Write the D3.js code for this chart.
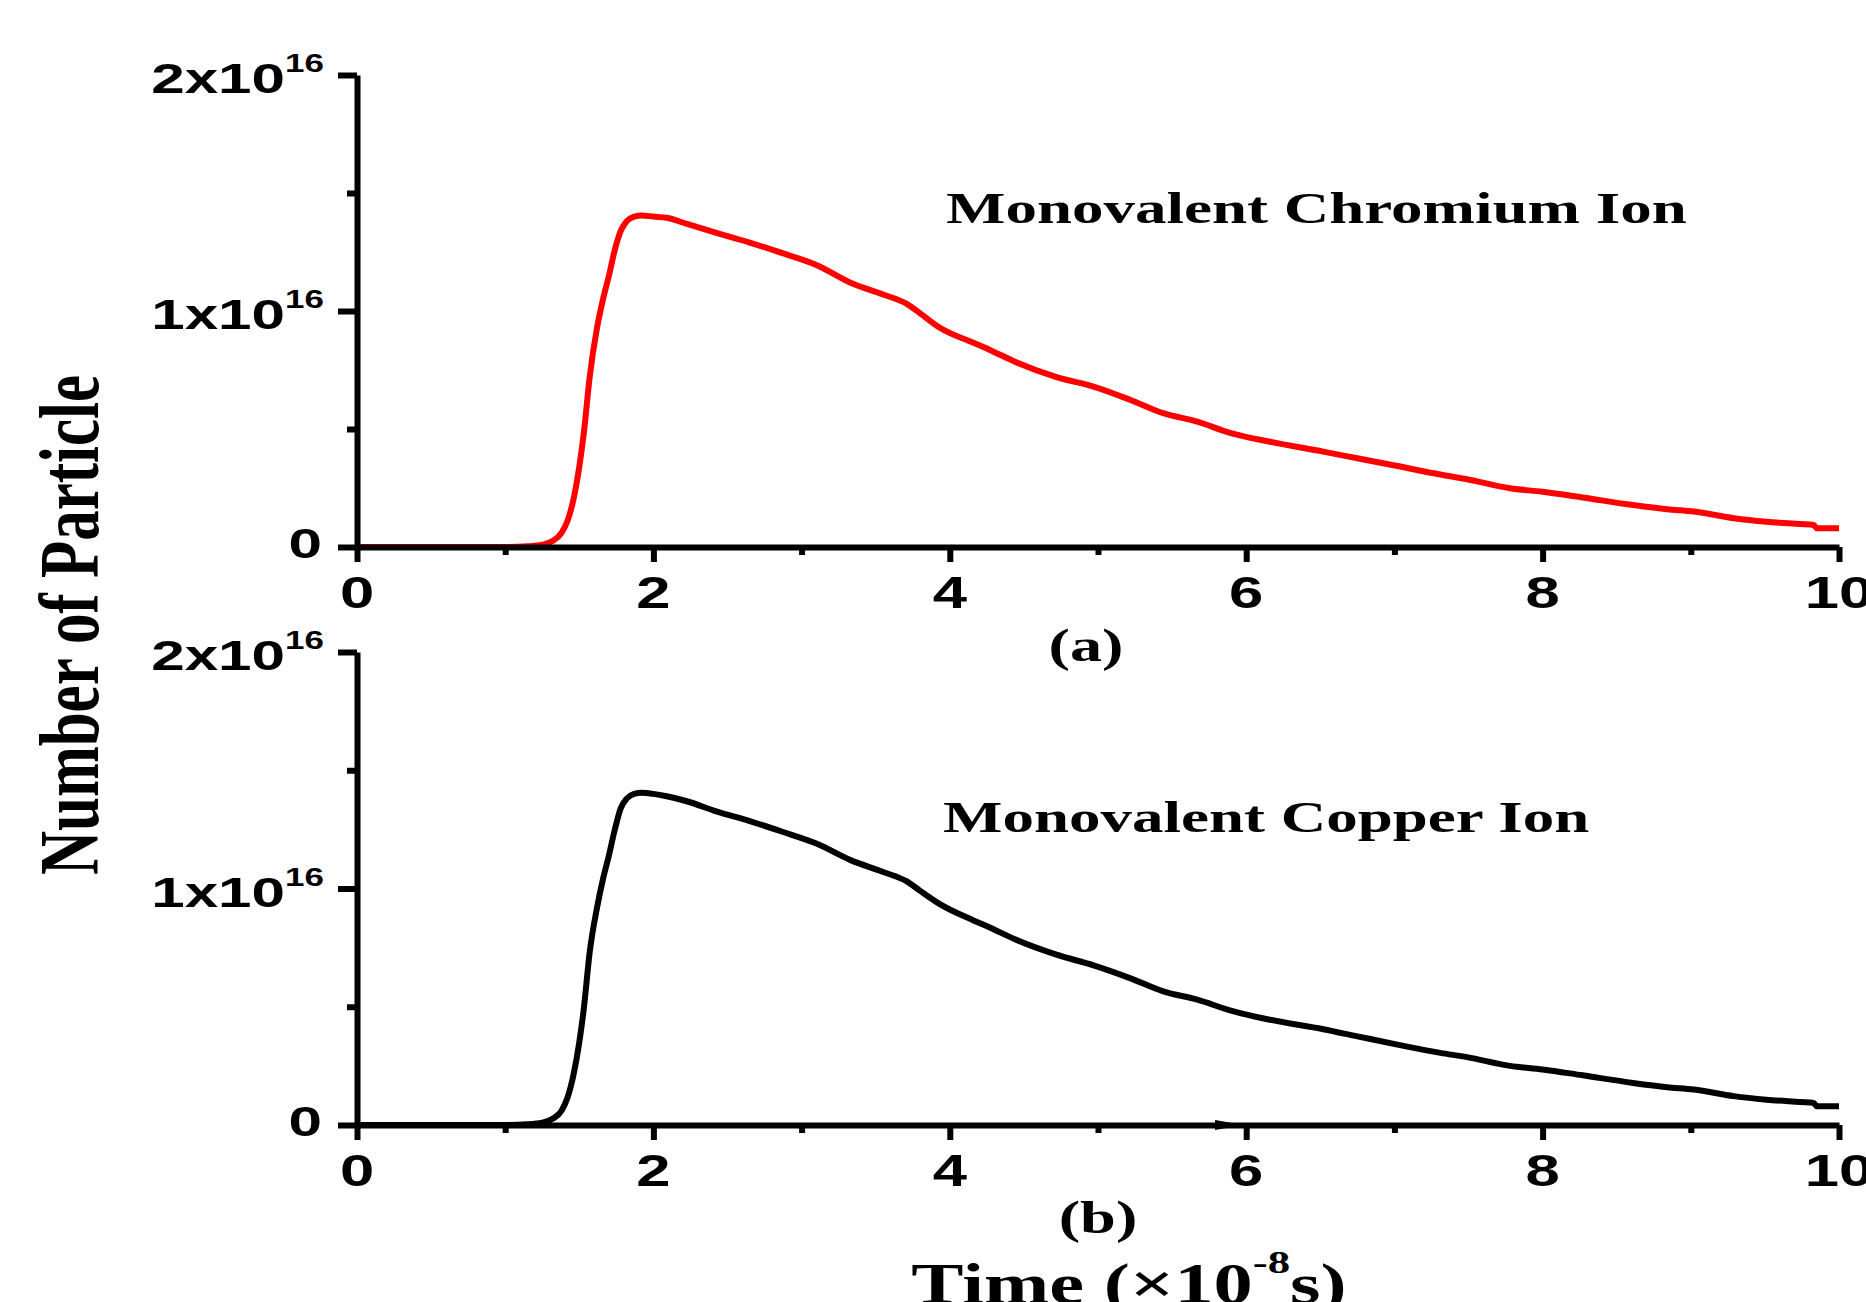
<!DOCTYPE html>
<html>
<head>
<meta charset="utf-8">
<script src="https://cdnjs.cloudflare.com/ajax/libs/d3/7.8.5/d3.min.js"></script>
<style>
    body { margin: 0; background: #fff; }
    svg { display: block; background: #fff; }
    .axis path, .axis line { stroke: #000; stroke-width: 6; fill: none; }
    .sans { font-family: "Liberation Sans", Arial, sans-serif; font-weight: bold; fill: #000; }
    .serif { font-family: "Liberation Serif", "Times New Roman", serif; font-weight: bold; fill: #000; }
</style>
</head>
<body>
<div id="chart"></div>
<script>
// time in units of 1e-8 s
var times = [0, 1.0, 1.15, 1.25, 1.32, 1.38, 1.42, 1.46, 1.50, 1.53, 1.57, 1.62, 1.66, 1.70, 1.74, 1.78,
    1.82, 1.87, 1.92, 2.0, 2.09, 2.22, 2.43, 2.65, 2.87, 3.10, 3.33, 3.55, 3.71, 3.80, 3.93, 4.16,
    4.27, 4.44, 4.72, 4.97, 5.22, 5.44, 5.67, 5.89, 6.16, 6.52, 6.75, 7.02, 7.31, 7.49, 7.78, 8.0,
    8.27, 8.61, 8.84, 9.02, 9.29, 9.51, 9.74, 9.83, 9.85, 10.0];

// number of particles in units of 1e16
var chromium = [0, 0, 0.003, 0.01, 0.025, 0.06, 0.11, 0.2, 0.34, 0.48, 0.72, 0.93, 1.05, 1.15, 1.26, 1.34,
    1.38, 1.40, 1.405, 1.40, 1.395, 1.37, 1.33, 1.29, 1.245, 1.195, 1.12, 1.07, 1.03, 0.99, 0.93, 0.865,
    0.835, 0.785, 0.72, 0.68, 0.623, 0.567, 0.531, 0.484, 0.446, 0.404, 0.376, 0.343, 0.307, 0.287, 0.249, 0.234,
    0.21, 0.178, 0.16, 0.15, 0.122, 0.107, 0.097, 0.093, 0.079, 0.079];

var copper = [0, 0, 0.003, 0.01, 0.026, 0.06, 0.115, 0.21, 0.35, 0.49, 0.73, 0.92, 1.04, 1.14, 1.25, 1.34,
    1.38, 1.40, 1.405, 1.40, 1.39, 1.37, 1.325, 1.285, 1.24, 1.19, 1.12, 1.07, 1.03, 0.99, 0.935, 0.865,
    0.835, 0.785, 0.72, 0.675, 0.62, 0.565, 0.53, 0.485, 0.445, 0.405, 0.375, 0.34, 0.305, 0.287, 0.25, 0.235,
    0.21, 0.178, 0.16, 0.15, 0.122, 0.107, 0.097, 0.093, 0.079, 0.079];

var xTicks = [0, 2, 4, 6, 8, 10];
var xMinor = [1, 3, 5, 7, 9];
var yTicks = [0, 1, 2];
var yMinor = [0.5, 1.5];
var yTickBase = ["0", "1x10", "2x10"];
var yTickExp = ["", "16", "16"];

// small arrow head sitting on the lower baseline
var arrowTimes = [5.79, 5.98];

var width = 1866, height = 1302;
var stretch = 1.4; // the figure text is stretched horizontally

var panels = [
    { values: chromium, color: "#ff0000", name: "Monovalent Chromium Ion", tag: "(a)",
      top: 75, bottom: 547, nameX: 946, nameY: 223, tagX: 1086, tagY: 661 },
    { values: copper, color: "#000000", name: "Monovalent Copper Ion", tag: "(b)",
      top: 652, bottom: 1125, nameX: 943, nameY: 832, tagX: 1098, tagY: 1233 }
];

var svg = d3.select('#chart').append('svg')
    .attr("width", width)
    .attr("height", height);

var x = d3.scaleLinear().domain([0, 10]).range([357, 1839]);

panels.forEach(function (p, k) {
    var y = d3.scaleLinear().domain([0, 2]).range([p.bottom, p.top]);
    var g = svg.append("g");

    // curve
    var line = d3.line()
        .x(function (d, i) { return x(times[i]); })
        .y(function (d) { return y(d); })
        .curve(d3.curveMonotoneX);

    g.append("path")
        .datum(p.values)
        .attr("d", line)
        .attr("fill", "none")
        .attr("stroke", p.color)
        .attr("stroke-width", 6)
        .attr("stroke-linejoin", "round");

    // x axis, major + minor ticks
    g.append("g").attr("class", "axis")
        .attr("transform", "translate(0," + p.bottom + ")")
        .call(d3.axisBottom(x).tickValues(xTicks).tickSize(15).tickSizeOuter(0).tickFormat(""));
    g.append("g").attr("class", "axis")
        .attr("transform", "translate(0," + p.bottom + ")")
        .call(d3.axisBottom(x).tickValues(xMinor).tickSize(8).tickFormat(""))
        .select(".domain").remove();

    // y axis, major + minor ticks
    g.append("g").attr("class", "axis")
        .attr("transform", "translate(" + x(0) + ",0)")
        .call(d3.axisLeft(y).tickValues(yTicks).tickSize(19).tickSizeOuter(0).tickFormat(""));
    g.append("g").attr("class", "axis")
        .attr("transform", "translate(" + x(0) + ",0)")
        .call(d3.axisLeft(y).tickValues(yMinor).tickSize(10).tickFormat(""))
        .select(".domain").remove();

    g.selectAll(".axis text").remove();

    // x tick labels
    g.selectAll(".xlab")
        .data(xTicks)
        .enter().append("text")
        .attr("class", "sans")
        .attr("font-size", 44)
        .attr("text-anchor", "middle")
        .attr("transform", function (d) {
            return "translate(" + x(d) + "," + (p.bottom + 61) + ") scale(" + stretch + ",1)";
        })
        .text(function (d) { return d; });

    // y tick labels with exponent
    yTicks.forEach(function (v, i) {
        var t = g.append("text")
            .attr("class", "sans")
            .attr("font-size", 43)
            .attr("text-anchor", "end")
            .attr("transform", "translate(" + (yTickExp[i] ? 324 : 322) + "," +
                (y(v) + (yTickExp[i] ? 18 : 11)) + ") scale(" + stretch + ",1)");
        t.append("tspan").text(yTickBase[i]);
        if (yTickExp[i]) {
            t.append("tspan").attr("font-size", 25).attr("dy", -21).text(yTickExp[i]);
        }
    });

    // series name and panel tag
    g.append("text")
        .attr("class", "serif")
        .attr("font-size", 45)
        .attr("transform", "translate(" + p.nameX + "," + p.nameY + ") scale(" + stretch + ",1)")
        .text(p.name);

    g.append("text")
        .attr("class", "serif")
        .attr("font-size", 46)
        .attr("text-anchor", "middle")
        .attr("transform", "translate(" + p.tagX + "," + p.tagY + ") scale(" + stretch + ",1)")
        .text(p.tag);

    if (k == 1) {
        var y0 = y(0);
        g.append("path")
            .attr("d", "M" + x(arrowTimes[0]) + "," + (y0 - 5) + "L" + x(arrowTimes[1]) + "," + y0 +
                "L" + x(arrowTimes[0]) + "," + (y0 + 5) + "Z")
            .attr("fill", "#000");
    }
});

// shared axis titles
svg.append("text")
    .attr("class", "serif")
    .attr("font-size", 61)
    .attr("text-anchor", "middle")
    .attr("transform", "translate(98,625) rotate(-90) scale(1," + stretch + ")")
    .text("Number of Particle");

var xt = svg.append("text")
    .attr("class", "serif")
    .attr("font-size", 56)
    .attr("text-anchor", "middle")
    .attr("transform", "translate(1129,1303) scale(" + stretch + ",1)");
xt.append("tspan").text("Time (\u00d710");
xt.append("tspan").attr("font-size", 32).attr("dy", -30).text("-8");
xt.append("tspan").attr("dy", 30).text("s)");
</script>
</body>
</html>
